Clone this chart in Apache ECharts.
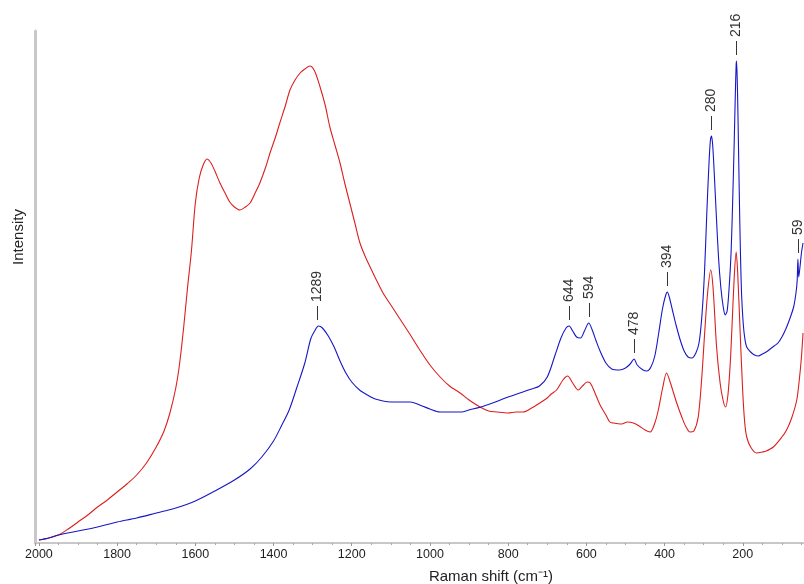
<!DOCTYPE html>
<html>
<head>
<meta charset="utf-8">
<script src="https://cdn.jsdelivr.net/npm/echarts@6/dist/echarts.min.js"></script>
<style>
  html, body { margin: 0; padding: 0; background: #fff; }
  #chart { width: 804px; height: 584px; }
</style>
</head>
<body>
<div id="chart"></div>
<script>
// Raman shift (cm-1) and intensity
const redShift = [2000, 1975, 1950, 1925, 1900, 1875, 1850, 1825, 1800, 1775, 1750, 1725, 1700, 1680, 1665, 1650, 1640, 1630, 1620, 1610, 1600, 1590, 1580, 1570, 1560, 1550, 1537, 1524, 1512, 1500, 1486, 1472, 1460, 1447, 1435, 1420, 1409, 1395, 1384, 1370, 1358, 1345, 1332, 1320, 1307, 1295, 1281, 1268, 1256, 1243, 1230, 1218, 1205, 1192, 1179, 1165, 1153, 1137, 1120, 1100, 1080, 1050, 1026, 1000, 974, 950, 923, 900, 872, 850, 829, 800, 780, 762, 740, 719, 700, 690, 676, 660, 648, 635, 621, 610, 598, 590, 578, 565, 550, 540, 531, 510, 495, 480, 465, 450, 437, 425, 416, 405, 395, 385, 369, 355, 345, 335, 325, 314, 305, 297, 290, 282, 276, 267, 258, 250, 244, 238, 232, 228, 222, 217, 213, 207, 200, 195, 190, 180, 165, 150, 140, 122, 100, 88, 75, 62, 55, 50, 46];
const redIntensity = [3, 5, 8, 14, 21, 28, 36, 43, 51, 59, 68, 80, 96, 112, 130, 155, 180, 215, 255, 292, 340, 365, 378, 384, 380, 372, 360, 350, 341, 336, 333, 336, 340, 350, 360, 376, 390, 406, 420, 437, 453, 463, 470, 474, 477, 472, 456, 438, 416, 398, 380, 360, 340, 320, 300, 286, 276, 263, 250, 238, 226, 208, 193, 178, 166, 157, 150, 143, 136, 132, 131, 130, 131, 131, 135, 140, 145, 149, 153, 163, 167, 160, 153, 157, 161, 160, 150, 138, 128, 121, 120, 119, 121, 120, 117, 113, 111, 120, 133, 155, 170, 160, 140, 125, 116, 111, 112, 126, 165, 213, 250, 273, 255, 196, 160, 142, 136, 148, 180, 213, 265, 291, 270, 213, 150, 120, 106, 96, 90, 91, 92, 96, 106, 113, 125, 143, 165, 186, 210];

const blueShift = [2000, 1975, 1950, 1900, 1850, 1800, 1750, 1700, 1650, 1600, 1550, 1500, 1460, 1430, 1400, 1380, 1360, 1340, 1320, 1305, 1295, 1285, 1275, 1260, 1245, 1230, 1215, 1200, 1180, 1160, 1140, 1100, 1050, 1020, 1000, 975, 950, 920, 900, 870, 840, 820, 800, 770, 740, 720, 700, 680, 665, 652, 644, 635, 625, 615, 605, 594, 585, 575, 565, 550, 535, 515, 500, 488, 478, 470, 455, 445, 435, 425, 415, 405, 397, 393, 388, 380, 370, 360, 350, 340, 330, 320, 312, 305, 298, 292, 287, 283, 280, 277, 273, 268, 262, 256, 250, 245, 240, 235, 230, 226, 222, 219, 217, 216, 214, 212, 209, 206, 203, 199, 195, 190, 180, 170, 160, 150, 140, 130, 120, 110, 100, 90, 80, 70, 64, 61, 59, 57, 54, 50, 46];
const blueIntensity = [3, 5, 8, 12, 16, 21, 25, 30, 35, 42, 52, 63, 74, 86, 102, 117, 133, 156, 180, 204, 212, 217, 215, 207, 196, 182, 170, 161, 153, 148, 144, 141, 141, 137, 134, 131, 131, 131, 133, 136, 140, 143, 146, 150, 154, 157, 166, 188, 205, 215, 217, 212, 206, 205, 212, 220, 213, 202, 192, 180, 174, 173, 175, 179, 184, 178, 173, 172, 176, 187, 210, 235, 248, 251, 246, 233, 217, 203, 192, 186, 185, 190, 200, 225, 270, 330, 375, 402, 407, 398, 370, 330, 285, 255, 236, 228, 232, 255, 290, 340, 400, 450, 478, 482, 460, 420, 350, 290, 248, 220, 205, 196, 191, 188, 187, 189, 191, 194, 197, 200, 206, 214, 224, 236, 250, 262, 284, 266, 275, 290, 300];

// peaks marked above the blue spectrum
const peakLabels = [1289, 644, 594, 478, 394, 280, 216, 59];

const xTicks = [200, 400, 600, 800, 1000, 1200, 1400, 1600, 1800, 2000];

const toPairs = (xs, ys) => xs.map((x, i) => [x, ys[i]]);

const blueAt = (v) => {
  let best = 0;
  blueShift.forEach((x, i) => {
    if (Math.abs(x - v) < Math.abs(blueShift[best] - v)) best = i;
  });
  return blueIntensity[best];
};

const chart = echarts.init(document.getElementById('chart'));

const option = {
  animation: false,
  backgroundColor: '#fff',
  // the axis runs past the right edge of the picture (down to 0)
  grid: { left: 35, width: 786, top: 31, bottom: 41, outerBoundsMode: 'none' },
  xAxis: {
    type: 'value',
    inverse: true,
    min: 0,
    max: 2010,
    interval: 200,
    axisLine: { show: true, lineStyle: { color: '#c8c8c8', width: 2 } },
    axisTick: { show: true, length: 3, lineStyle: { color: '#999' } },
    minorTick: { show: true, splitNumber: 4, length: 2, lineStyle: { color: '#aaa' } },
    splitLine: { show: false },
    axisLabel: {
      color: '#1e1e1e',
      fontSize: 12.5,
      fontFamily: 'Liberation Sans',
      margin: 5,
      formatter: (v) => (xTicks.includes(v) ? String(v) : '')
    }
  },
  yAxis: {
    type: 'value',
    min: 0,
    max: 512,
    axisLine: { show: true, onZero: false, lineStyle: { color: '#c8c8c8', width: 3 } },
    axisTick: { show: false },
    axisLabel: { show: false },
    splitLine: { show: false }
  },
  graphic: [
    {
      type: 'text',
      x: 19,
      y: 237,
      rotation: Math.PI / 2,
      style: {
        text: 'Intensity',
        font: '15px "Liberation Sans"',
        fill: '#222',
        textAlign: 'center',
        textVerticalAlign: 'middle'
      }
    },
    {
      type: 'text',
      x: 491,
      y: 577,
      style: {
        text: 'Raman shift (cm⁻¹)',
        font: '15px "Liberation Sans"',
        fill: '#222',
        textAlign: 'center',
        textVerticalAlign: 'middle'
      }
    }
  ],
  series: [
    {
      name: 'red',
      type: 'line',
      showSymbol: false,
      smooth: 0.3,
      lineStyle: { color: '#dc1e1e', width: 1.1 },
      data: toPairs(redShift, redIntensity)
    },
    {
      name: 'blue',
      type: 'line',
      showSymbol: false,
      smooth: 0.3,
      lineStyle: { color: '#1616c8', width: 1.1 },
      data: toPairs(blueShift, blueIntensity)
    }
  ]
};

chart.setOption(option);

// peak labels: anchored on the blue curve via the chart's own scales
const labelGraphics = peakLabels.map((v) => {
  const p = chart.convertToPixel({ gridIndex: 0 }, [v, blueAt(v)]);
  return {
    type: 'text',
    x: p[0],
    y: p[1] - 6,
    rotation: Math.PI / 2,
    style: {
      text: '— ' + v,
      font: '14px "Liberation Sans"',
      fill: '#333',
      textAlign: 'left',
      textVerticalAlign: 'middle'
    }
  };
});

chart.setOption({ graphic: option.graphic.concat(labelGraphics) });
</script>
</body>
</html>
